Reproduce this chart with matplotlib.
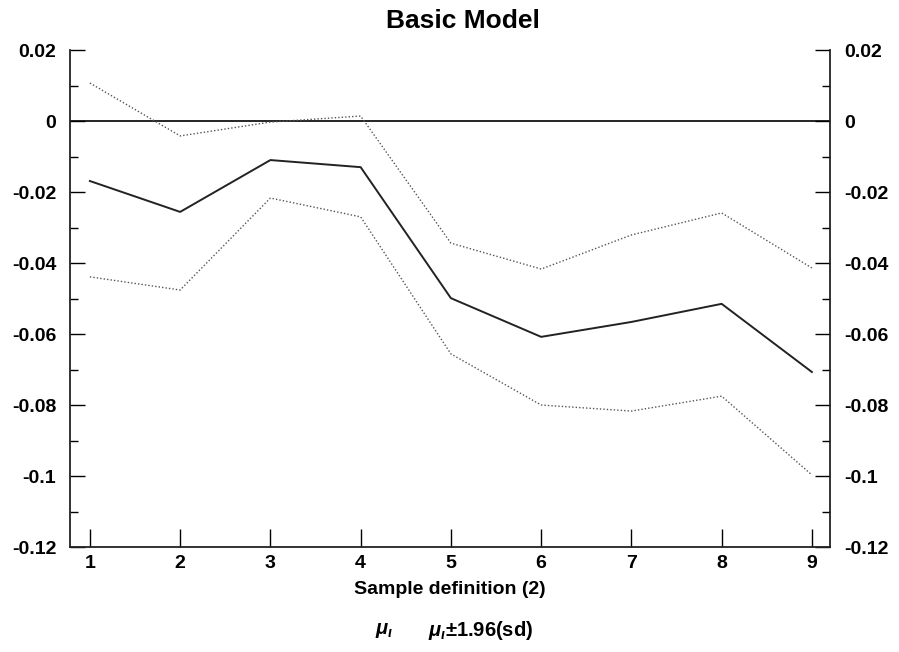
import matplotlib
matplotlib.use('Agg')
import matplotlib.pyplot as plt
import numpy as np
from matplotlib.ticker import MultipleLocator, FuncFormatter

plt.rcParams['font.family'] = ['Liberation Sans', 'DejaVu Sans']
plt.rcParams['mathtext.fontset'] = 'custom'
plt.rcParams['mathtext.it'] = 'Liberation Sans:italic:bold'
plt.rcParams['mathtext.rm'] = 'Liberation Sans:bold'

# sample definitions
samples = [1, 2, 3, 4, 5, 6, 7, 8, 9]
# estimated mu and the +/- 1.96 sd band
mu = [-0.0169, -0.0256, -0.0110, -0.0130, -0.0499, -0.0608, -0.0566, -0.0515, -0.0707]
upper = [0.0107, -0.0042, -0.0003, 0.0014, -0.0344, -0.0417, -0.0321, -0.0259, -0.0414]
lower = [-0.0439, -0.0476, -0.0217, -0.0270, -0.0656, -0.0800, -0.0817, -0.0775, -0.0997]

fig = plt.figure(figsize=(8.99, 6.52), dpi=100)
ax = fig.add_axes([0.0779, 0.161, 0.8453, 0.7623])

ax.axhline(0, color='black', lw=1.2)
ax.plot(samples, upper, color='#555555', lw=1.0, linestyle=(0, (1, 1.5)))
ax.plot(samples, lower, color='#555555', lw=1.0, linestyle=(0, (1, 1.5)))
ax.plot(samples, mu, color='#222222', lw=1.4)

ax.set_xlim(0.78, 9.2)
ax.set_ylim(-0.12, 0.02)
ax.set_xticks(samples)
ax.yaxis.set_major_locator(MultipleLocator(0.02))
ax.yaxis.set_minor_locator(MultipleLocator(0.01))

def fmt(v, pos):
    if abs(v) < 1e-9:
        return '0'
    s = '%.2f' % v
    s = s.rstrip('0') if s.endswith('0') else s
    return s
ax.yaxis.set_major_formatter(FuncFormatter(fmt))

ax.spines['top'].set_visible(False)
for s in ['left', 'right', 'bottom']:
    ax.spines[s].set_linewidth(1.3)
    ax.spines[s].set_color('#222222')

ax.tick_params(axis='y', which='both', direction='in', left=True, right=True,
               labelleft=True, labelright=True, labelsize=14, width=1.0)
ax.tick_params(axis='y', which='major', length=11, pad=10)
ax.tick_params(axis='y', which='minor', length=6)
ax.tick_params(axis='x', direction='in', length=13, width=1.0, labelsize=14, pad=6)
for t in ax.yaxis.get_major_ticks():
    t.label1.set_fontweight('bold')
    t.label2.set_fontweight('bold')
for lab in ax.get_xticklabels():
    lab.set_fontweight('bold')

ax.set_xlabel('Sample definition (2)', fontsize=14, fontweight='bold', labelpad=6)
fig.text(0.515, 0.968, 'Basic Model', ha='center', va='center', fontsize=19, fontweight='bold')
# legend text (line samples were not drawn in the original)
fig.text(375 / 899, 0.033, r'$\mu_{\iota}$', ha='left', va='center', fontsize=14.5, fontweight='bold')
fig.text(428 / 899, 0.033, r'$\mu_{\iota}$$\pm$1.96(sd)', ha='left', va='center',
         fontsize=14.5, fontweight='bold')

fig.savefig('out.png', dpi=100)
